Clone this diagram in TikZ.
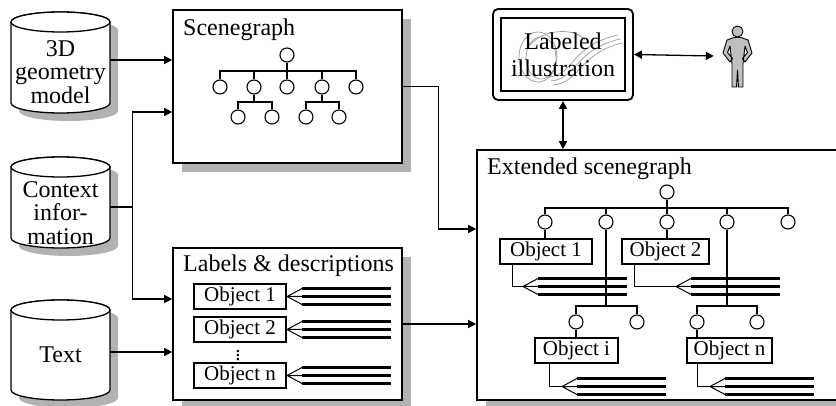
\documentclass[tikz,border=0pt]{standalone}
\usepackage{fontspec}
\setmainfont{Liberation Serif}
\usetikzlibrary{arrows.meta,calc,shadows}

% database cylinder: left x, right x, top-ellipse centre y, bottom-ellipse centre y
\newcommand{\dbcylinder}[4]{%
  \pgfmathsetmacro\cylrx{(#2-#1)/2}%
  \pgfmathsetmacro\cylcx{(#1+#2)/2}%
  \draw[cylline,cylshadow] (#1,#3) -- (#1,#4)
    arc[start angle=180,end angle=0,x radius=\cylrx,y radius=10]
    -- (#2,#3)
    arc[start angle=0,end angle=-180,x radius=\cylrx,y radius=10] -- cycle;
  \draw[cylline] (\cylcx,#3) ellipse[x radius=\cylrx,y radius=10];
}

\begin{document}
\begin{tikzpicture}[x=1pt,y=-1pt,
  big/.style={font=\fontsize{24}{23.5}\selectfont},
  cylline/.style={line width=1.3pt, fill=white},
  cylshadow/.style={drop shadow={shadow xshift=8pt,shadow yshift=-8pt,opacity=1,fill=black!30}},
  boxshadow/.style={drop shadow={shadow xshift=9pt,shadow yshift=-9pt,opacity=1,fill=black!30}},
  cyltext/.style={big, align=center, inner sep=0pt, minimum width=99pt},
  panel/.style={draw, line width=1.6pt, fill=white, inner sep=0pt, boxshadow},
  title/.style={big, anchor=base west, inner sep=0pt},
  obj/.style={draw, line width=1.1pt, fill=white, minimum height=25pt, inner sep=0pt,
              font=\fontsize{21}{24}\selectfont},
  circ/.style={draw, circle, line width=1.1pt, minimum size=14pt, inner sep=0pt, fill=white},
  tree/.style={line width=1.1pt},
  conn/.style={line width=1.3pt},
  arr/.style={line width=1.3pt, -{Triangle[length=8pt,width=8pt]}},
  darr/.style={line width=1.3pt, {Triangle[length=8pt,width=8pt]}-{Triangle[length=8pt,width=8pt]}},
  sketch/.style={draw=black!40, line width=0.7pt},
  pen/.pic={
    \coordinate (-tip) at (0,0);
    \draw[line width=1pt] (15,-8) -- (0,0) -- (15,8) (0,0) -- (15,0);
    \draw[line width=2.8pt] (15,-8) -- (104,-8) (15,0) -- (104,0) (15,8) -- (104,8);
  }
]
\useasboundingbox (0,0) rectangle (836,406);
\clip (0,0) rectangle (836,406);

% ---------- data sources ----------
\dbcylinder{11}{110}{22}{103}
\dbcylinder{11}{110}{167}{238}
\dbcylinder{11}{110}{310}{390}
\node[cyltext] (geo) at (60.5,72) {3D\\geometry\\model};
\node[cyltext] (ctx) at (60.5,213) {Context\\infor-\\mation};
\node[cyltext] (txt) at (60.5,355) {Text};

% ---------- scenegraph ----------
\node[panel, minimum width=229pt, minimum height=153pt] (sg) at (287.5,86.5) {};
\node[title] (sgtitle) at (183,36) {Scenegraph};
\node[circ] (t0) at (287,55) {};
\foreach \i/\x in {1/220,2/254,3/287,4/322,5/356}
  \node[circ] (t\i) at (\x,87) {};
\foreach \i/\x in {1/238,2/272,3/306,4/339}
  \node[circ] (u\i) at (\x,117) {};
\coordinate (tb) at (287,71);
\coordinate (ub1) at (254,102);
\coordinate (ub2) at (322,102);
\draw[tree] (t0.south) -- (tb);
\draw[tree] (t1.north) |- (tb) -| (t5.north);
\foreach \i in {2,3,4} \draw[tree] (t\i.north) -- (t\i.north |- tb);
\draw[tree] (t2.south) -- (ub1);
\draw[tree] (t4.south) -- (ub2);
\draw[tree] (u1.north) |- (ub1) -| (u2.north);
\draw[tree] (u3.north) |- (ub2) -| (u4.north);

% ---------- labels & descriptions ----------
\node[panel, minimum width=229pt, minimum height=152pt] (lab) at (287.5,324) {};
\node[title] (labtitle) at (183,272) {Labels \& descriptions};
\node[obj, minimum width=92pt] (lo1) at (240,296.5) {Object 1};
\node[obj, minimum width=92pt] (lo2) at (240,329.5) {Object 2};
\node[obj, minimum width=92pt] (lon) at (240,375.5) {Object n};
\node[inner sep=0pt, font=\fontsize{21}{24}\selectfont] (ldots) at (238,353) {$\vdots$};
\pic (pl1) at (287,296.5) {pen};
\pic (pl2) at (287,329.5) {pen};
\pic (pln) at (287,375.5) {pen};

% ---------- extended scenegraph ----------
\node[panel, minimum width=383pt, minimum height=250pt] (ext) at (668.5,275) {};
\node[title] (exttitle) at (487,175) {Extended scenegraph};
\node[circ] (e0) at (667,192) {};
\foreach \i/\x in {1/545,2/606,3/667,4/727,5/788}
  \node[circ] (e\i) at (\x,222) {};
\node[circ] (g1) at (576,322) {};
\node[circ] (g2) at (637,322) {};
\node[circ] (g3) at (697,322) {};
\node[circ] (g4) at (757,322) {};
\coordinate (eb) at (667,208);
\coordinate (eb2) at (606,306);
\coordinate (eb4) at (727,306);
\draw[tree] (e0.south) -- (eb);
\draw[tree] (e1.north) |- (eb) -| (e5.north);
\foreach \i in {2,3,4} \draw[tree] (e\i.north) -- (e\i.north |- eb);
\draw[tree] (e2.south) -- (eb2);
\draw[tree] (e4.south) -- (eb4);
\draw[tree] (g1.north) |- (eb2) -| (g2.north);
\draw[tree] (g3.north) |- (eb4) -| (g4.north);

\node[obj, minimum width=92pt] (eo1) at (546,251.5) {Object 1};
\node[obj, minimum width=87pt] (eo2) at (665.5,251.5) {Object 2};
\node[obj, minimum width=83pt] (eoi) at (576.5,350.5) {Object i};
\node[obj, minimum width=85pt] (eon) at (729.5,350.5) {Object n};
\draw[tree] (e1.south) -- (e1.south |- eo1.north);
\draw[tree] (e3.south) -- (e3.south |- eo2.north);
\draw[tree] (g1.south) -- (g1.south |- eoi.north);
\draw[tree] (g3.south) -- (g3.south |- eon.north);

\pic (pe1) at (523,286.5) {pen};
\pic (pe2) at (676,286.5) {pen};
\pic (pei) at (562,386.5) {pen};
\pic (pen) at (710,386.5) {pen};
\draw[tree] ([xshift=13pt]eo1.south west) |- (pe1-tip);
\draw[tree] ([xshift=13pt]eo2.south west) |- (pe2-tip);
\draw[tree] ([xshift=15pt]eoi.south west) |- (pei-tip);
\draw[tree] ([xshift=11pt]eon.south west) |- (pen-tip);

% ---------- labeled illustration and user ----------
\node[draw, line width=1.8pt, rounded corners=5pt, minimum width=140pt, minimum height=91pt,
      fill=white] (illu) at (563,54.5) {};
\draw[sketch] (538,57) ellipse[x radius=19, y radius=25];
\draw[sketch] (541,58) ellipse[x radius=15, y radius=21];
\draw[sketch] (530,45) .. controls (545,28) and (575,28) .. (585,40);
\draw[sketch] (549,77) .. controls (575,74) and (570,46) .. (618,35);
\draw[sketch] (551,81) .. controls (578,78) and (574,50) .. (620,39);
\draw[sketch] (553,85) .. controls (581,82) and (578,54) .. (622,43);
\node[draw, line width=1.4pt, minimum width=124pt, minimum height=73pt, align=center,
      font=\fontsize{24}{27}\selectfont, inner sep=0pt] (illuin) at (563,54.5)
      {Labeled\\illustration};

\node[minimum width=46pt, minimum height=64pt, inner sep=0pt] (user) at (737,56) {};
\fill[black!25, draw=black, line width=0.9pt, line join=round]
  (734,37.5) -- (727,40) -- (723,53) -- (730,62) -- (732.5,58.5) -- (727.5,52.5)
  -- (730,46) -- (732,64) -- (732,87) -- (736.5,87) -- (737.5,70) -- (738.5,87)
  -- (743,87) -- (743,64) -- (745,46) -- (747.5,52.5) -- (742.5,58.5) -- (745,62)
  -- (752,53) -- (748,40) -- (741,37.5) -- cycle;
\fill[black!25, draw=black, line width=0.9pt] (737.5,31.5) circle (5.5pt);

% ---------- connectors ----------
\draw[arr] ([yshift=12pt]geo.east) coordinate (g0) -- (g0 -| sg.west);
\draw[conn] ([yshift=6pt]ctx.east) -- ++(22,0) coordinate (fork);
\draw[arr] (fork) |- ([yshift=-25.5pt]sg.west);
\draw[arr] (fork) |- ([yshift=25pt]lab.west);
\draw[arr] ([yshift=3pt]txt.east) coordinate (x0) -- (x0 -| lab.west);
\draw[arr] (sg.east) -- ++(36,0) |- ([yshift=46pt]ext.west);
\draw[arr] (lab.east) -- (lab.east -| ext.west);
\draw[darr] (illu.east) -- (user.west);
\draw[darr] (illu.south) -- (illu.south |- ext.north);
\end{tikzpicture}
\end{document}
